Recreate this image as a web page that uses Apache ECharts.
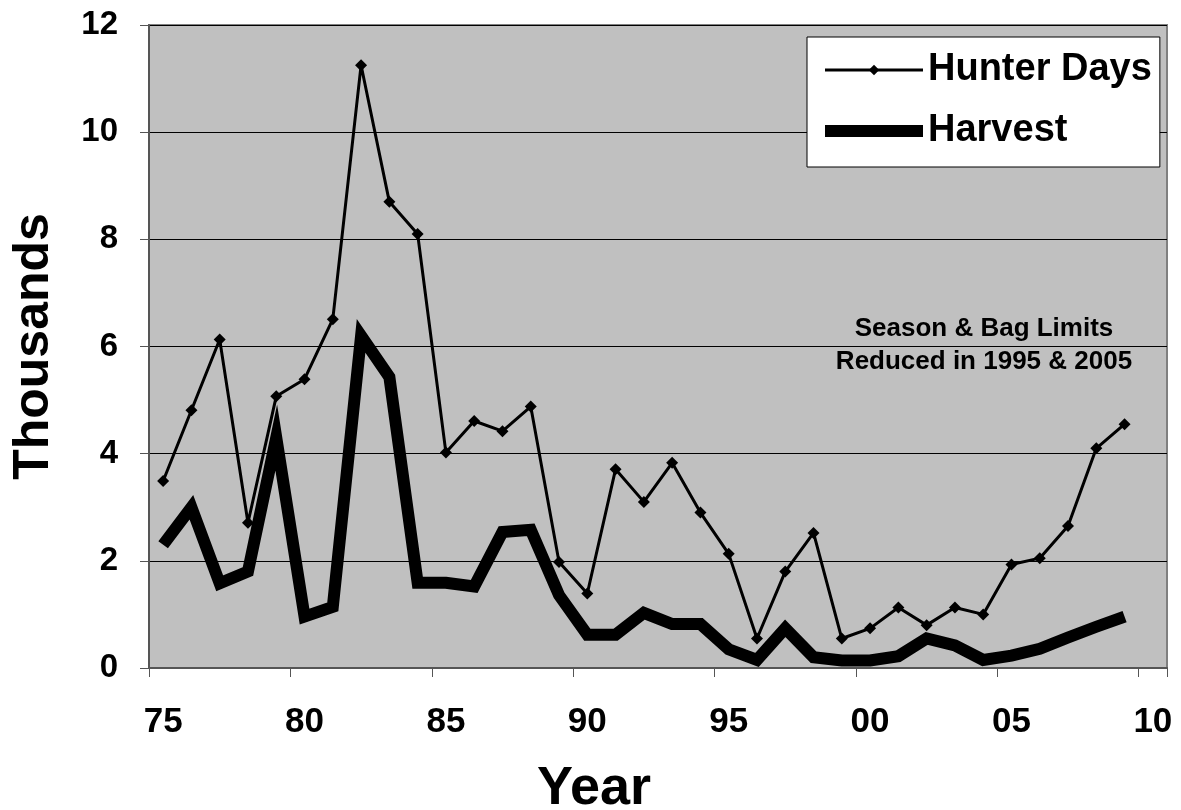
<!DOCTYPE html>
<html>
<head>
<meta charset="utf-8">
<script src="https://cdn.jsdelivr.net/npm/echarts@6/dist/echarts.min.js"></script>
<style>
html,body{margin:0;padding:0;background:#fff;}
#chart{width:1181px;height:810px;}
</style>
</head>
<body>
<div id="chart"></div>
<script>
var years = ['1975','1976','1977','1978','1979','1980','1981','1982','1983','1984',
             '1985','1986','1987','1988','1989','1990','1991','1992','1993','1994',
             '1995','1996','1997','1998','1999','2000','2001','2002','2003','2004',
             '2005','2006','2007','2008','2009','2010'];
var hunterDays = [3.49, 4.81, 6.13, 2.71, 5.07, 5.39, 6.51, 11.25, 8.70, 8.10,
                  4.02, 4.61, 4.42, 4.88, 1.98, 1.39, 3.71, 3.10, 3.83, 2.90,
                  2.13, 0.55, 1.80, 2.52, 0.55, 0.74, 1.13, 0.80, 1.13, 1.00,
                  1.93, 2.05, 2.65, 4.10, 4.55];
var harvest = [2.30, 3.00, 1.58, 1.80, 4.30, 0.96, 1.14, 6.20, 5.43, 1.59,
               1.59, 1.52, 2.54, 2.58, 1.36, 0.62, 0.62, 1.03, 0.82, 0.82,
               0.35, 0.15, 0.74, 0.20, 0.14, 0.14, 0.22, 0.55, 0.42, 0.15,
               0.23, 0.36, 0.57, 0.77, 0.96];
var seriesNames = ['Hunter Days', 'Harvest'];
var annotation = ['Season & Bag Limits', 'Reduced in 1995 & 2005'];

var FONT = "'Liberation Sans', Arial, sans-serif";
var chart = echarts.init(document.getElementById('chart'), null, {renderer: 'canvas'});
chart.setOption({
  animation: false,
  backgroundColor: '#ffffff',
  textStyle: {fontFamily: FONT},
  grid: {
    left: 149, right: 14, top: 25, bottom: 142,
    outerBoundsMode: 'none',
    containLabel: false,
    show: true, backgroundColor: '#c0c0c0', borderColor: '#808080', borderWidth: 2
  },
  legend: {
    orient: 'vertical',
    left: 807, top: 37,
    backgroundColor: '#ffffff',
    borderColor: '#000000', borderWidth: 1, borderRadius: 0,
    padding: [14, 8, 17, 12],
    itemWidth: 98, itemHeight: 13, itemGap: 23,
    textStyle: {fontFamily: FONT, fontSize: 38, fontWeight: 'bold', color: '#000'},
    data: [
      {name: seriesNames[0], lineStyle: {width: 3, color: '#000'}, itemStyle: {color: '#000'}},
      {name: seriesNames[1], lineStyle: {width: 12, color: '#000'}, itemStyle: {color: '#000', opacity: 0}}
    ]
  },
  xAxis: {
    type: 'category',
    data: years,
    boundaryGap: true,
    name: 'Year',
    nameLocation: 'middle',
    nameGap: 94,
    nameTextStyle: {fontFamily: FONT, fontSize: 54, fontWeight: 'bold', color: '#000', padding: [0, 128, 0, 0]},
    axisLine: {show: true, lineStyle: {color: '#555555', width: 2}},
    axisTick: {show: true, interval: 4, length: 9, alignWithLabel: false, lineStyle: {color: '#555555', width: 1}},
    axisLabel: {
      interval: 4, margin: 37,
      fontFamily: FONT, fontSize: 35, fontWeight: 'bold', color: '#000',
      formatter: function (v) { return v.slice(2); }
    },
    splitLine: {show: false}
  },
  yAxis: {
    type: 'value',
    min: 0, max: 12, interval: 2,
    name: 'Thousands',
    nameLocation: 'middle',
    nameRotate: 90,
    nameGap: 90,
    nameTextStyle: {fontFamily: FONT, fontSize: 50, fontWeight: 'bold', color: '#000'},
    axisLine: {show: true, lineStyle: {color: '#555555', width: 2}},
    axisTick: {show: true, length: 9, lineStyle: {color: '#555555', width: 1}},
    axisLabel: {margin: 31, fontFamily: FONT, fontSize: 33, fontWeight: 'bold', color: '#000'},
    splitLine: {show: true, lineStyle: {color: '#000000', width: 1}}
  },
  graphic: [{
    type: 'text',
    x: 984, y: 312,
    style: {
      text: annotation.join('\n'),
      fontFamily: FONT, fontSize: 26, fontWeight: 'bold', fill: '#000',
      lineHeight: 33, align: 'center', verticalAlign: 'top'
    },
    z: 10
  }],
  series: [
    {
      name: seriesNames[0], type: 'line', data: hunterDays,
      symbol: 'diamond', symbolSize: 12, showSymbol: true,
      lineStyle: {color: '#000', width: 3},
      itemStyle: {color: '#000'},
      z: 3
    },
    {
      name: seriesNames[1], type: 'line', data: harvest,
      symbol: 'none',
      lineStyle: {color: '#000', width: 12, join: 'miter'},
      itemStyle: {color: '#000'},
      z: 2
    }
  ]
});
</script>
</body>
</html>
